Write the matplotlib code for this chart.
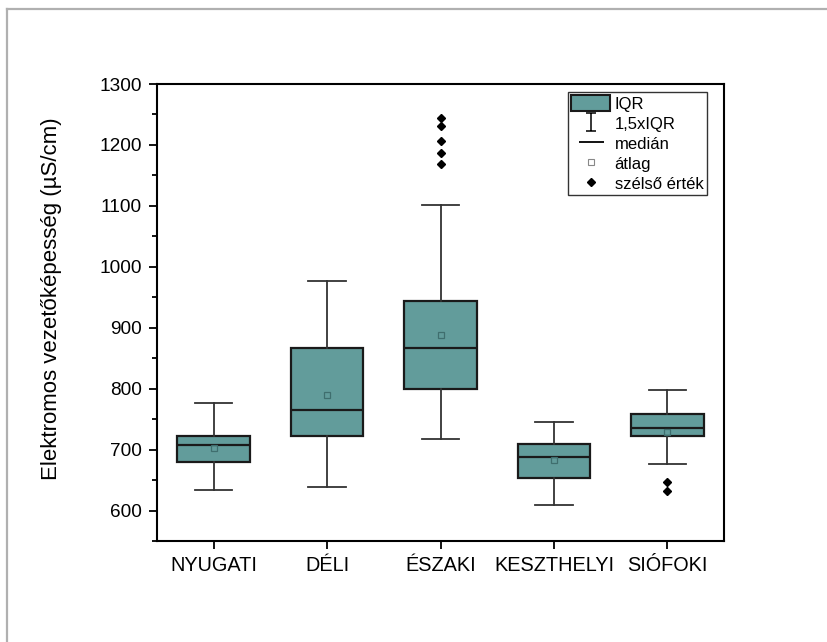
import matplotlib
matplotlib.use("Agg")
import matplotlib.pyplot as plt
from matplotlib.lines import Line2D
from matplotlib.patches import Patch
from matplotlib.path import Path
from matplotlib.ticker import MultipleLocator

plt.rcParams["font.family"] = ["Liberation Sans", "DejaVu Sans"]

# values (µS/cm)
categories = ["NYUGATI", "DÉLI", "ÉSZAKI", "KESZTHELYI", "SIÓFOKI"]
whisker_low = [634, 638, 718, 609, 677]
q1 = [680, 723, 799, 653, 723]
medians = [707, 765, 867, 688, 735]
q3 = [723, 867, 944, 709, 759]
whisker_high = [777, 977, 1101, 746, 798]
means = [703, 790, 888, 683, 729]
outliers = [[], [], [1245, 1231, 1207, 1186, 1169], [], [647, 632]]

BOX_COLOR = "#629c9b"

stats = []
for i, name in enumerate(categories):
    stats.append({
        "label": name,
        "whislo": whisker_low[i],
        "q1": q1[i],
        "med": medians[i],
        "q3": q3[i],
        "whishi": whisker_high[i],
        "mean": means[i],
        "fliers": outliers[i],
    })

fig = plt.figure(figsize=(8.28, 6.42), dpi=100)
ax = fig.add_axes([157 / 828, 1 - 541 / 642, (724 - 157) / 828, (541 - 84) / 642])

ax.bxp(
    stats,
    positions=range(1, len(categories) + 1),
    widths=0.64,
    patch_artist=True,
    showmeans=True,
    boxprops=dict(facecolor=BOX_COLOR, edgecolor="#1a1a1a", linewidth=1.6),
    medianprops=dict(color="#1a1a1a", linewidth=1.6),
    whiskerprops=dict(color="#333333", linewidth=1.3),
    capprops=dict(color="#333333", linewidth=1.3),
    capwidths=0.33,
    meanprops=dict(marker="s", markersize=4, markerfacecolor="none",
                   markeredgecolor="#3f6e6e", markeredgewidth=0.9),
    flierprops=dict(marker="D", markersize=3.6, markerfacecolor="black",
                    markeredgecolor="black"),
)

ax.set_xlim(0.5, 5.5)
ax.set_ylim(550, 1300)
ax.yaxis.set_major_locator(MultipleLocator(100))
ax.yaxis.set_minor_locator(MultipleLocator(50))
ax.set_yticks(range(600, 1301, 100))
ax.tick_params(axis="both", direction="out", width=1.3, length=6, pad=5)
ax.tick_params(axis="y", labelsize=13.7)
ax.tick_params(axis="x", labelsize=14.3)
ax.tick_params(axis="y", which="minor", length=3.5, width=1.3)
for s in ax.spines.values():
    s.set_linewidth(1.5)
ax.set_ylabel("Elektromos vezetőképesség (µS/cm)", fontsize=16)
ax.yaxis.set_label_coords(-0.168, 0.53)

# legend
ibeam = Path(
    [(-0.55, -1), (0.55, -1), (0, -1), (0, 1), (-0.55, 1), (0.55, 1)],
    [Path.MOVETO, Path.LINETO, Path.MOVETO, Path.LINETO, Path.MOVETO, Path.LINETO],
)
handles = [
    Patch(facecolor=BOX_COLOR, edgecolor="#1a1a1a", linewidth=1.5),
    Line2D([], [], linestyle="none", marker=ibeam, markersize=12.5,
           markerfacecolor="none", markeredgecolor="black", markeredgewidth=1.1),
    Line2D([], [], linestyle="none", marker="_", markersize=18,
           markeredgecolor="black", markeredgewidth=1.3),
    Line2D([], [], linestyle="none", marker="s", markersize=4, markerfacecolor="none",
           markeredgecolor="#888888", markeredgewidth=0.8),
    Line2D([], [], linestyle="none", marker="D", markersize=4, color="black"),
]
labels = ["IQR", "1,5xIQR", "medián", "átlag", "szélső érték"]
leg = ax.legend(
    handles, labels, loc="upper right", bbox_to_anchor=(0.9695, 0.9825),
    fontsize=12, frameon=True, fancybox=False, edgecolor="black",
    handlelength=2.35, handleheight=1.1, labelspacing=0.2,
    handletextpad=0.25, borderpad=0.2, borderaxespad=0,
)
leg.get_frame().set_linewidth(1.0)

# grey frame of the original page
fig.add_artist(Line2D([7 / 828, 1], [1 - 9 / 642, 1 - 9 / 642],
                      transform=fig.transFigure, color="#b0b0b0", linewidth=1.6))
fig.add_artist(Line2D([7 / 828, 7 / 828], [0, 1 - 9 / 642],
                      transform=fig.transFigure, color="#b0b0b0", linewidth=1.6))

fig.savefig("out.png", dpi=100)
